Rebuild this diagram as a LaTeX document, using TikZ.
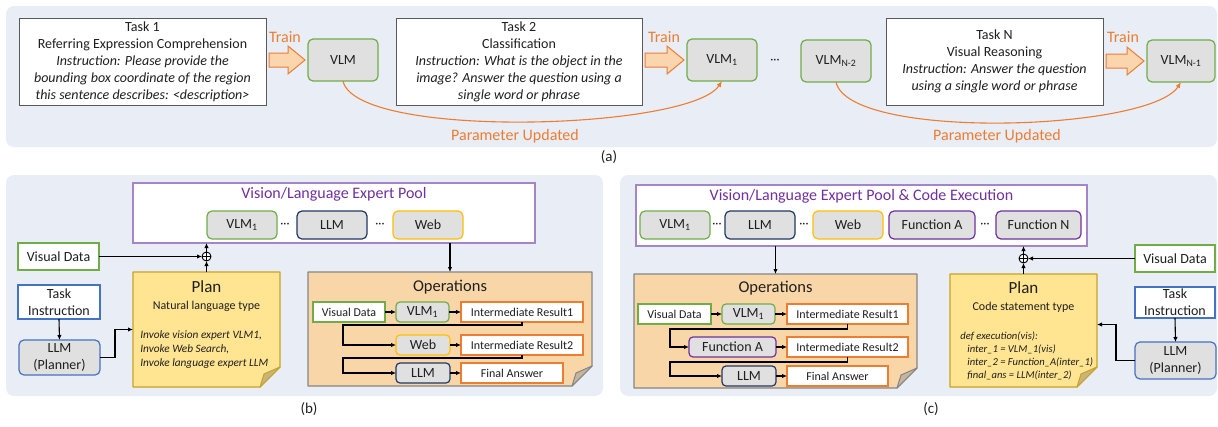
\documentclass[tikz,border=0pt]{standalone}
\usepackage{fontspec}
\setmainfont{Carlito}
\usetikzlibrary{arrows.meta,calc}
\pgfdeclarelayer{bg}\pgfdeclarelayer{mid}
\pgfsetlayers{bg,mid,main}
\definecolor{panelbg}{HTML}{E8EDF6}
\definecolor{modelgray}{HTML}{E0E0E0}
\definecolor{mgreen}{HTML}{70AD47}
\definecolor{mnavy}{HTML}{203864}
\definecolor{mblue}{HTML}{4472C4}
\definecolor{mgold}{HTML}{FFC000}
\definecolor{mpurple}{HTML}{7030A0}
\definecolor{poolborder}{HTML}{A486C8}
\definecolor{morange}{HTML}{ED7D31}
\definecolor{trainfill}{HTML}{FBD5AE}
\definecolor{taskgray}{HTML}{595959}
\definecolor{planfill}{HTML}{FFE491}
\definecolor{planborder}{HTML}{C9A227}
\definecolor{planfold}{HTML}{C9B37E}
\definecolor{opsfill}{HTML}{F9D6A8}
\definecolor{opsborder}{HTML}{858585}
\definecolor{opsfold}{HTML}{C6B49C}
\newcommand{\myfs}[2]{\fontsize{#1}{#2}\selectfont}
\newcommand{\foldnote}[5]{%
\begin{pgfonlayer}{mid}
\filldraw[fill=#2, draw=#3, line width=1.2pt, line join=round] (#1.north west) -- (#1.north east) -- ([yshift=#5]#1.south east) -- ([xshift=-#5]#1.south east) -- (#1.south west) -- cycle;
\filldraw[fill=#4, draw=#3, line width=1pt, line join=round] ([xshift=-#5]#1.south east) -- ([yshift=#5]#1.south east) -- ([xshift=-0.8*#5, yshift=0.65*#5]#1.south east) -- cycle;
\end{pgfonlayer}}
\newcommand{\trainarrow}[2]{%
\path let \p1=([xshift=3pt]#1.east), \p2=([xshift=-3pt]#2.west) in
 [draw=morange, fill=trainfill, line width=1pt, line join=miter]
 (\x1,{\y2+7pt}) -- ({\x2-17pt},{\y2+7pt}) -- ({\x2-17pt},{\y2+14pt}) -- (\x2,\y2)
 -- ({\x2-17pt},{\y2-14pt}) -- ({\x2-17pt},{\y2-7pt}) -- (\x1,{\y2-7pt}) -- cycle;}
\begin{document}
\begin{tikzpicture}[x=1pt,y=-1pt,
  every node/.style={font=\myfs{14}{17}, text=black!88, outer sep=0pt},
  taskbox/.style={draw=taskgray, fill=white, line width=0.9pt, inner sep=0pt, align=center},
  box/.style={draw, fill=white, line width=1.1pt, inner sep=0pt, align=center},
  model/.style={draw, fill=modelgray, line width=1.2pt, rounded corners=5pt, inner sep=0pt, align=center},
  arr/.style={line width=1.1pt, -{Latex[length=5pt,width=4.5pt]}},
  oarr/.style={line width=1.1pt, draw=morange, -{Latex[length=6pt,width=5pt]}},
  olab/.style={text=morange, font=\myfs{16}{19}},
  oplus/.style={circle, draw, line width=0.9pt, inner sep=0pt, minimum size=9pt, fill=white,
    path picture={\draw[line width=0.8pt] (path picture bounding box.north) -- (path picture bounding box.south)
      (path picture bounding box.west) -- (path picture bounding box.east);}},
  pooltitle/.style={text=mpurple, font=\myfs{16}{19}},
  small/.style={font=\myfs{12}{14}},
  dots/.style={font=\myfs{12}{14}}
]
\useasboundingbox (0,0) rectangle (1218,426);
\begin{pgfonlayer}{bg}
\fill[panelbg, rounded corners=8pt] (6,6) rectangle (1217,147);
\fill[panelbg, rounded corners=8pt] (6,175) rectangle (603,396);
\fill[panelbg, rounded corners=8pt] (620,175) rectangle (1217,396);
\end{pgfonlayer}

% ---------------- panel (a)
\node[taskbox, minimum width=247, minimum height=87] (t1) at (142.5,61.5)
 {Task 1\\Referring Expression Comprehension\\\textit{Instruction: Please provide the}\\\textit{bounding box coordinate of the region}\\\textit{this sentence describes: <description>}};
\node[taskbox, minimum width=246, minimum height=87] (t2) at (519,61.5)
 {Task 2\\Classification\\\textit{Instruction: What is the object in the}\\\textit{image? Answer the question using a}\\\textit{single word or phrase}};
\node[taskbox, minimum width=217, minimum height=87] (tn) at (994.5,61.5)
 {Task N\\Visual Reasoning\\\textit{Instruction: Answer the question}\\\textit{using a single word or phrase}};
\node[model, draw=mgreen, minimum width=70, minimum height=42] (vlm0) at (343,60) {VLM};
\node[model, draw=mgreen, minimum width=70, minimum height=42] (vlm1) at (722,60) {VLM\textsubscript{1}};
\node[model, draw=mgreen, minimum width=70, minimum height=42] (vlmn2) at (836,61) {VLM\textsubscript{N-2}};
\node[model, draw=mgreen, minimum width=68, minimum height=42] (vlmn1) at (1181,61) {VLM\textsubscript{N-1}};
\node[dots] (adots) at (775,61) {···};
\trainarrow{t1}{vlm0}
\trainarrow{t2}{vlm1}
\trainarrow{tn}{vlmn1}
\node[olab] (tr1) at (285,37) {Train};
\node[olab] (tr2) at (664,37) {Train};
\node[olab] (tr3) at (1123,37) {Train};
\draw[oarr] (vlm0.south) .. controls (356,140) and (690,130) .. (vlm1.south);
\draw[oarr] (vlmn2.south) .. controls (849,141) and (1150,131) .. (vlmn1.south);
\node[olab] (pu1) at (515,136) {Parameter Updated};
\node[olab] (pu2) at (997,136) {Parameter Updated};
\node[font=\myfs{15}{18}] (la) at (609,157) {(a)};

% ---------------- panel (b)
\node[box, draw=poolborder, minimum width=402, minimum height=60] (bpool) at (334,213) {};
\node[pooltitle] (bpt) at (334,194) {Vision/Language Expert Pool};
\node[model, draw=mgreen, minimum width=70, minimum height=28] (bpv) at (242,225) {VLM\textsubscript{1}};
\node[dots] (bd1) at (285,225) {···};
\node[model, draw=mnavy, minimum width=70, minimum height=28] (bpl) at (332,225) {LLM};
\node[dots] (bd2) at (380,225) {···};
\node[model, draw=mgold, minimum width=70, minimum height=28] (bpw) at (428,225) {Web};

\node[box, draw=mgreen, minimum width=81, minimum height=27] (bvd) at (58.5,256.5) {Visual Data};
\node[oplus] (bop) at (206.5,256.5) {};
\node[minimum width=147, minimum height=115, inner sep=0pt] (bplan) at (206.5,329.5) {};
\foldnote{bplan}{planfill}{planborder}{planfold}{20pt}
\node[font=\myfs{17}{20}] (bplt) at (206.5,287) {Plan};
\node[small] (bpls) at (206.5,306) {Natural language type};
\node[font=\myfs{11.3}{14}\itshape, align=left, anchor=west] (bplc) at (137,350)
 {Invoke vision expert VLM1,\\Invoke Web Search,\\Invoke language expert LLM};
\node[box, draw=mblue, minimum width=82, minimum height=34] (bti) at (59,302) {Task\\Instruction};
\node[model, draw=mblue, minimum width=81, minimum height=35] (bllm) at (59.5,357.5) {LLM\\(Planner)};

\draw[arr] (bvd.east) -- (bop.west);
\draw[arr] (bplan.north) -- (bop.south);
\draw[arr] (bop.north) -- (bop |- bpool.south);
\draw[arr] (bti.south) -- (bllm.north);
\draw[arr] (bllm.east) -- ++(15,0) |- (bplan.west);

\node[minimum width=284, minimum height=114, inner sep=0pt] (bops) at (450,329) {};
\foldnote{bops}{opsfill}{opsborder}{opsfold}{20pt}
\draw[arr] (bpool.south -| bops.north) -- (bops.north);
\node[font=\myfs{16.5}{19}] (bopt) at (450,287) {Operations};
\node[box, draw=mgreen, minimum width=72, minimum height=20, small] (bovd) at (349,312) {Visual Data};
\node[model, draw=mgreen, minimum width=53, minimum height=20, rounded corners=4pt] (bov) at (422.5,312) {VLM\textsubscript{1}};
\node[box, draw=morange, minimum width=122, minimum height=20, small] (bir1) at (522,312) {Intermediate Result1};
\node[model, draw=mgold, minimum width=54, minimum height=20, rounded corners=4pt] (bow) at (423,345) {Web};
\node[box, draw=morange, minimum width=122, minimum height=20, small] (bir2) at (522,345) {Intermediate Result2};
\node[model, draw=mnavy, minimum width=54, minimum height=20, rounded corners=4pt] (bol) at (423,373) {LLM};
\node[box, draw=morange, minimum width=102, minimum height=20, small] (bfa) at (512,373) {Final Answer};
\draw[arr] (bovd) -- (bov);
\draw[arr] (bov) -- (bir1);
\draw[arr] (bow) -- (bir2);
\draw[arr] (bol) -- (bfa);
\draw[arr] (bir1.south) -- ++(0,3) -| ([xshift=-53pt]bow.west) -- (bow.west);
\draw[arr] (bir2.south) -- ++(0,3) -| ([xshift=-53pt]bol.west) -- (bol.west);
\node[font=\myfs{15}{18}] (lb) at (309,409) {(b)};

% ---------------- panel (c)
\node[box, draw=poolborder, minimum width=451, minimum height=61] (cpool) at (861.5,215.5) {};
\node[pooltitle] (cpt) at (861.5,196) {Vision/Language Expert Pool \& Code Execution};
\node[model, draw=mgreen, minimum width=70, minimum height=28] (cpv) at (675,225) {VLM\textsubscript{1}};
\node[dots] (cd1) at (717,225) {···};
\node[model, draw=mnavy, minimum width=70, minimum height=28] (cpl) at (760,225) {LLM};
\node[dots] (cd2) at (804,225) {···};
\node[model, draw=mgold, minimum width=70, minimum height=28] (cpw) at (848,225) {Web};
\node[model, draw=mpurple, minimum width=86, minimum height=28] (cpa) at (932,225) {Function A};
\node[dots] (cd3) at (985,225) {···};
\node[model, draw=mpurple, minimum width=85, minimum height=28] (cpn) at (1038.5,225) {Function N};

\node[box, draw=mgreen, minimum width=80, minimum height=27] (cvd) at (1175,258.5) {Visual Data};
\node[oplus] (cop) at (1023.5,258.5) {};
\node[minimum width=147, minimum height=113, inner sep=0pt] (cplan) at (1023.5,330.5) {};
\foldnote{cplan}{planfill}{planborder}{planfold}{20pt}
\node[font=\myfs{17}{20}] (cplt) at (1023.5,288) {Plan};
\node[small] (cpls) at (1023.5,307) {Code statement type};
\node[font=\myfs{10.6}{13.2}\itshape, align=left, anchor=north west] (cplc) at (957,328)
 {def execution(vis):\\\hspace*{7pt}inter\_1 = VLM\_1(vis)\\\hspace*{7pt}inter\_2 = Function\_A(inter\_1)\\\hspace*{7pt}final\_ans = LLM(inter\_2)};
\node[box, draw=mblue, minimum width=80, minimum height=31] (cti) at (1175,302.5) {Task\\Instruction};
\node[model, draw=mblue, minimum width=81, minimum height=37] (cllm) at (1175.5,360.5) {LLM\\(Planner)};

\draw[arr] (cvd.west) -- (cop.east);
\draw[arr] (cplan.north) -- (cop.south);
\draw[arr] (cop.north) -- (cop |- cpool.south);
\draw[arr] (cti.south) -- (cllm.north);
\draw[arr] (cllm.west) -- ++(-19,0) |- ([yshift=6pt]cplan.east);

\node[minimum width=283, minimum height=114, inner sep=0pt] (cops) at (775.5,331) {};
\foldnote{cops}{opsfill}{opsborder}{opsfold}{20pt}
\draw[arr] (cpool.south -| cops.north) -- (cops.north);
\node[font=\myfs{16.5}{19}] (copt) at (775.5,288) {Operations};
\node[box, draw=mgreen, minimum width=73, minimum height=20, small] (covd) at (674.5,314) {Visual Data};
\node[model, draw=mgreen, minimum width=53, minimum height=20, rounded corners=4pt] (cov) at (748.5,314) {VLM\textsubscript{1}};
\node[box, draw=morange, minimum width=121, minimum height=20, small] (cir1) at (847.5,314) {Intermediate Result1};
\node[model, draw=mpurple, minimum width=87, minimum height=20, rounded corners=4pt] (cof) at (732.5,347) {Function A};
\node[box, draw=morange, minimum width=121, minimum height=20, small] (cir2) at (847.5,347) {Intermediate Result2};
\node[model, draw=mnavy, minimum width=54, minimum height=20, rounded corners=4pt] (col) at (749,376) {LLM};
\node[box, draw=morange, minimum width=101, minimum height=20, small] (cfa) at (837.5,376) {Final Answer};
\draw[arr] (covd) -- (cov);
\draw[arr] (cov) -- (cir1);
\draw[arr] (cof) -- (cir2);
\draw[arr] (col) -- (cfa);
\draw[arr] (cir1.south) -- ++(0,5) -| ([xshift=-19pt]cof.west) -- (cof.west);
\draw[arr] (cir2.south) -- ++(0,5) -| ([xshift=-52pt]col.west) -- (col.west);
\node[font=\myfs{15}{18}] (lc) at (931,409) {(c)};
\end{tikzpicture}
\end{document}
